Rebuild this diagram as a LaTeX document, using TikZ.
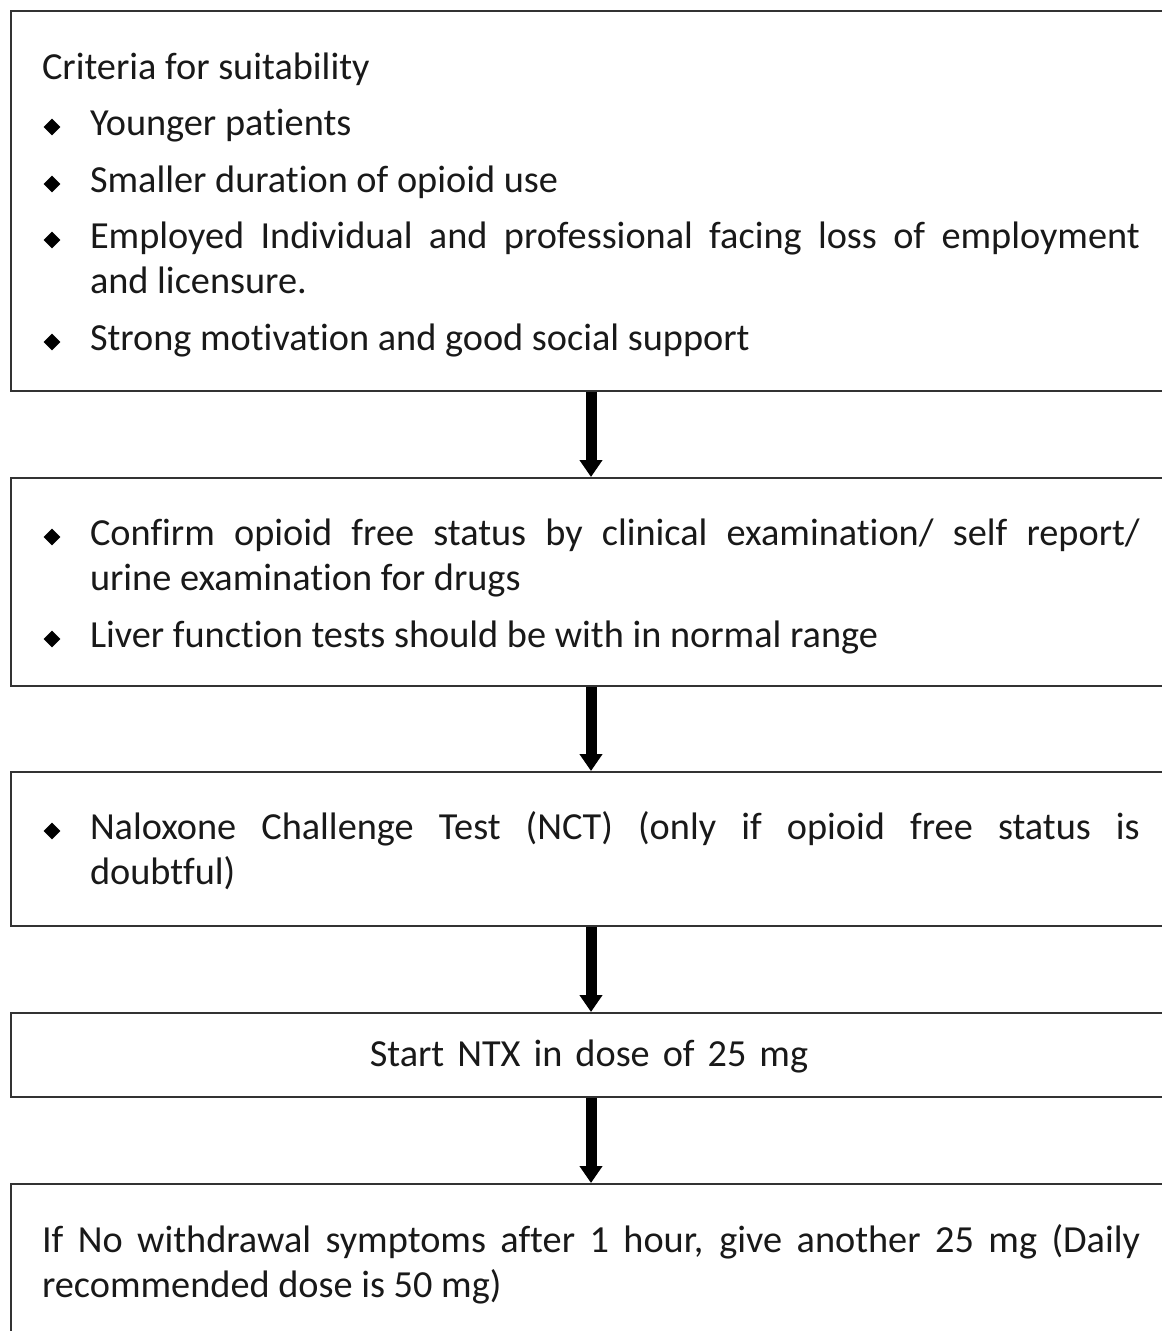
\documentclass[tikz,border=0pt]{standalone}
\usepackage{fontspec}
\setmainfont{Carlito}[Ligatures=NoCommon]
\usetikzlibrary{shapes.geometric,arrows.meta}
\begin{document}
\begin{tikzpicture}[x=1pt,y=-1pt,
  boxline/.style={draw=black!80, line width=2.2pt, rectangle, anchor=north west, inner sep=0pt, minimum width=1200pt},
  txt/.style={font=\fontsize{38.3}{45}\selectfont, inner sep=0pt, outer sep=0pt, text=black!90},
  para/.style={txt, text width=1050pt, align=justify, anchor=base west},
  bul/.style={diamond, fill=black, inner sep=0pt, minimum width=17pt, minimum height=17pt},
  flow/.style={-{Triangle[width=22pt,length=17pt]}, line width=11pt, draw=black}
]
\useasboundingbox (0,0) rectangle (1162,1331);
\clip (0,0) rectangle (1162,1331);
\fill[white] (0,0) rectangle (1162,1331);
% boxes
\node[boxline, minimum height=380pt] (b1) at (10,10) {};
\node[boxline, minimum height=208pt] (b2) at (10,477) {};
\node[boxline, minimum height=154pt] (b3) at (10,771) {};
\node[boxline, minimum height=84pt] (b4) at (10,1012) {};
\node[boxline, minimum height=200pt] (b5) at (10,1183) {};
\coordinate (ax) at (591,0);
% box 1
\node[txt, anchor=base west] (t0) at (42,79) {Criteria for suitability};
\node[bul] (d1) at (52,127) {};
\node[para] (t1) at (90,135) {Younger patients};
\node[bul] (d2) at (52,184) {};
\node[para] (t2) at (90,192) {Smaller duration of opioid use};
\node[bul] (d3) at (52,240) {};
\node[para] (t3) at (90,248) {Employed Individual and professional facing loss of employment\linebreak and licensure.};
\node[bul] (d4) at (52,342) {};
\node[para] (t4) at (90,350) {Strong motivation and good social support};
% box 2
\node[bul] (d5) at (52,537) {};
\node[para] (t5) at (90,545) {Confirm opioid free status by clinical examination/ self report/\linebreak urine examination for drugs};
\node[bul] (d6) at (52,639) {};
\node[para] (t6) at (90,647) {Liver function tests should be with in normal range};
% box 3
\node[bul] (d7) at (52,831) {};
\node[para] (t7) at (90,839) {Naloxone Challenge Test (NCT) (only if opioid free status is\linebreak doubtful)};
% box 4
\node[txt, anchor=base] (t8) at (589,1066) {\spaceskip=13pt Start NTX in dose of 25 mg};
% box 5
\node[para, text width=1098pt] (t9) at (42,1252) {If No withdrawal symptoms after 1 hour, give another 25 mg (Daily\linebreak recommended dose is 50 mg)};
% arrows
\draw[flow] (b1.south -| ax) -- (b2.north -| ax);
\draw[flow] (b2.south -| ax) -- (b3.north -| ax);
\draw[flow] (b3.south -| ax) -- (b4.north -| ax);
\draw[flow] (b4.south -| ax) -- (b5.north -| ax);
\end{tikzpicture}
\end{document}
